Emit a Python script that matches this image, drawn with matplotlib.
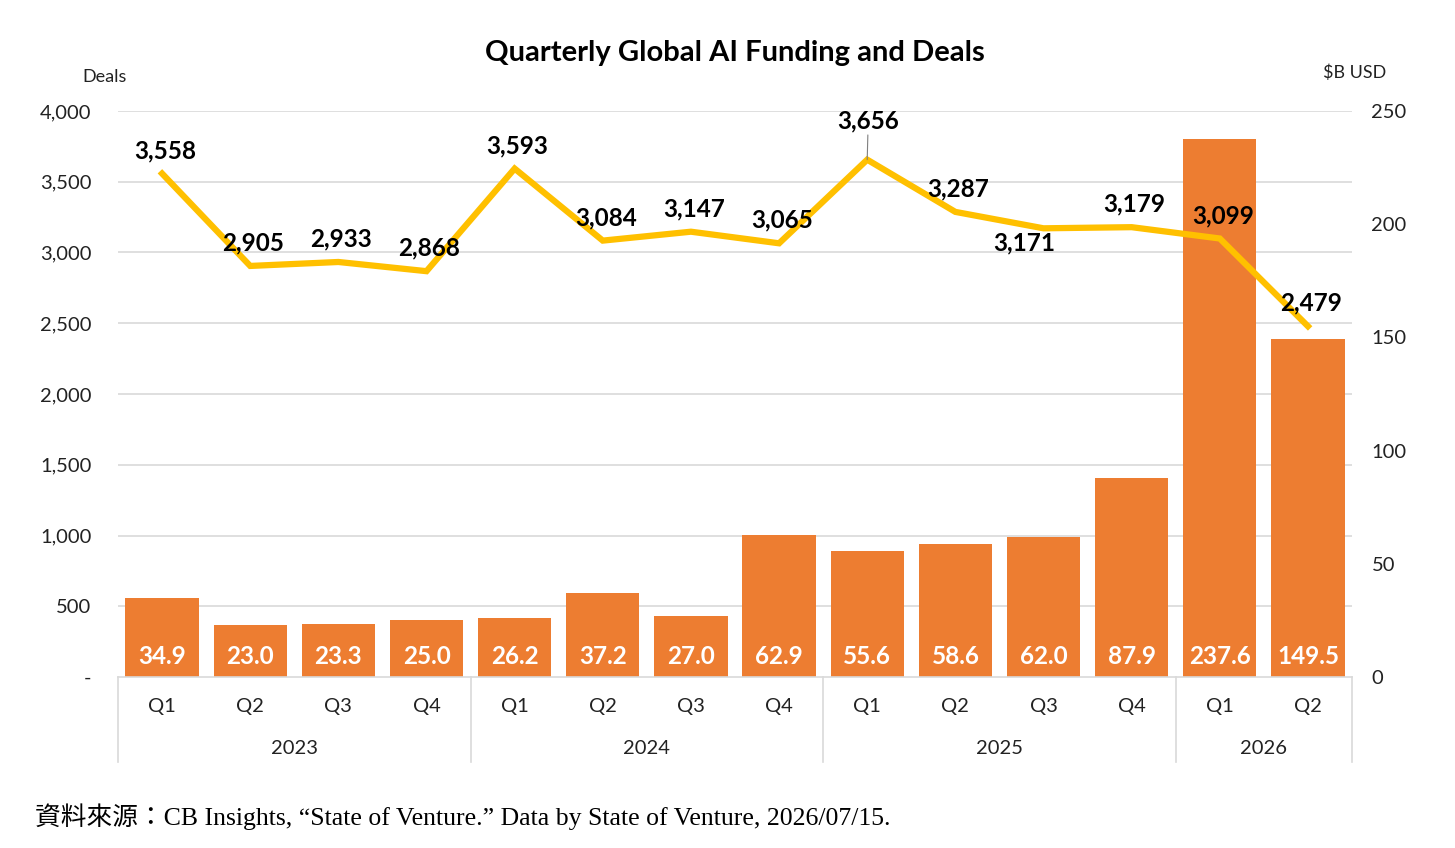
import matplotlib.pyplot as plt
from matplotlib.lines import Line2D
from matplotlib.ticker import FuncFormatter

plt.rcParams["font.family"] = ["Lato", "DejaVu Sans"]

quarters = ["Q1", "Q2", "Q3", "Q4"] * 3 + ["Q1", "Q2"]
years = ["2023", "2024", "2025", "2026"]
year_counts = [4, 4, 4, 2]
funding = [34.9, 23.0, 23.3, 25.0, 26.2, 37.2, 27.0, 62.9, 55.6, 58.6, 62.0, 87.9, 237.6, 149.5]
deals = [3558, 2905, 2933, 2868, 3593, 3084, 3147, 3065, 3656, 3287, 3171, 3179, 3099, 2479]
deal_ticks = [0, 500, 1000, 1500, 2000, 2500, 3000, 3500, 4000]
funding_ticks = [0, 50, 100, 150, 200, 250]

BAR = "#ED7D31"
LINE = "#FFC000"
GRID = "#D9D9D9"
TXT = "#222222"

fig = plt.figure(figsize=(14.55, 8.48), dpi=100)
ax = fig.add_axes([118 / 1455, 1 - 677 / 848, (1352 - 118) / 1455, 566 / 848])
x = list(range(len(funding)))

# bars on the $B axis (right), grid taken from the deals axis
for v in deal_ticks[1:]:
    ax.axhline(v * 250 / 4000, color=GRID, lw=1.2, zorder=0)
bars = ax.bar(x, funding, width=0.83, color=BAR, zorder=2)
ax.set_ylim(0, 250)
ax.set_xlim(-0.5, len(funding) - 0.5)
for s in ["top", "left", "right"]:
    ax.spines[s].set_visible(False)
ax.spines["bottom"].set_color(GRID)
ax.spines["bottom"].set_linewidth(1.2)

for b, v in zip(bars, funding):
    ax.text(b.get_x() + b.get_width() / 2, 20 * 250 / 566, f"{v:.1f}",
            ha="center", va="center", color="white", fontsize=17.5, fontweight="bold", zorder=3)

ax.set_xticks(x)
ax.set_xticklabels(quarters)
ax.tick_params(axis="x", length=0, pad=15, labelsize=14.5, labelcolor=TXT)

# year groups under the quarters
start = 0
bounds = [-0.5]
for yr, n in zip(years, year_counts):
    mid = start + (n - 1) / 2
    ax.text(mid, -71 / 566, yr, transform=ax.get_xaxis_transform(), ha="center", va="center",
            fontsize=14.5, color=TXT)
    start += n
    bounds.append(start - 0.5)
for bx in bounds:
    ax.add_line(Line2D([bx, bx], [0, -85 / 566], transform=ax.get_xaxis_transform(),
                       color=GRID, lw=1.2, clip_on=False))

# deals line on the left axis
ax2 = ax.twinx()
ax2.plot(x, deals, color=LINE, lw=4.5, solid_joinstyle="miter", zorder=4)
ax2.set_ylim(0, 4000)
ax2.yaxis.tick_left()
ax2.set_yticks(deal_ticks)
ax2.yaxis.set_major_formatter(FuncFormatter(lambda v, p: "-" if v == 0 else f"{v:,.0f}"))
ax2.tick_params(axis="y", length=0, pad=19, labelsize=14.5, labelcolor=TXT)
for s in ax2.spines.values():
    s.set_visible(False)

ax.yaxis.tick_right()
ax.set_yticks(funding_ticks)
ax.tick_params(axis="y", length=0, pad=14, labelsize=14.5, labelcolor=TXT)

offsets = [(3, 23)] * len(deals)
offsets[8] = (1, 39)
offsets[10] = (-19, -15)
for i, (v, off) in enumerate(zip(deals, offsets)):
    kw = {}
    if i == 8:
        kw["arrowprops"] = dict(arrowstyle="-", color="#7F7F7F", lw=0.8, shrinkA=0, shrinkB=0)
    ax2.annotate(f"{v:,}", (i, v), xytext=off, textcoords="offset pixels", ha="center",
                 va="center", fontsize=17.5, fontweight="bold", color="black", zorder=5, **kw)

fig.text(735 / 1455, 1 - 53 / 848, "Quarterly Global AI Funding and Deals", ha="center", va="center",
         fontsize=21, fontweight="bold")
fig.text(105 / 1455, 1 - 77 / 848, "Deals", ha="center", va="center", fontsize=13, color=TXT)
fig.text(1355 / 1455, 1 - 73 / 848, "$B USD", ha="center", va="center", fontsize=13, color=TXT)
fig.text(35 / 1455, 1 - 817 / 848,
         "資料來源：CB Insights, \u201cState of Venture.\u201d Data by State of Venture, 2026/07/15.",
         ha="left", va="center", fontsize=18.5, family=["Liberation Serif", "Noto Sans CJK TC"])

fig.savefig("out.png", dpi=100)
